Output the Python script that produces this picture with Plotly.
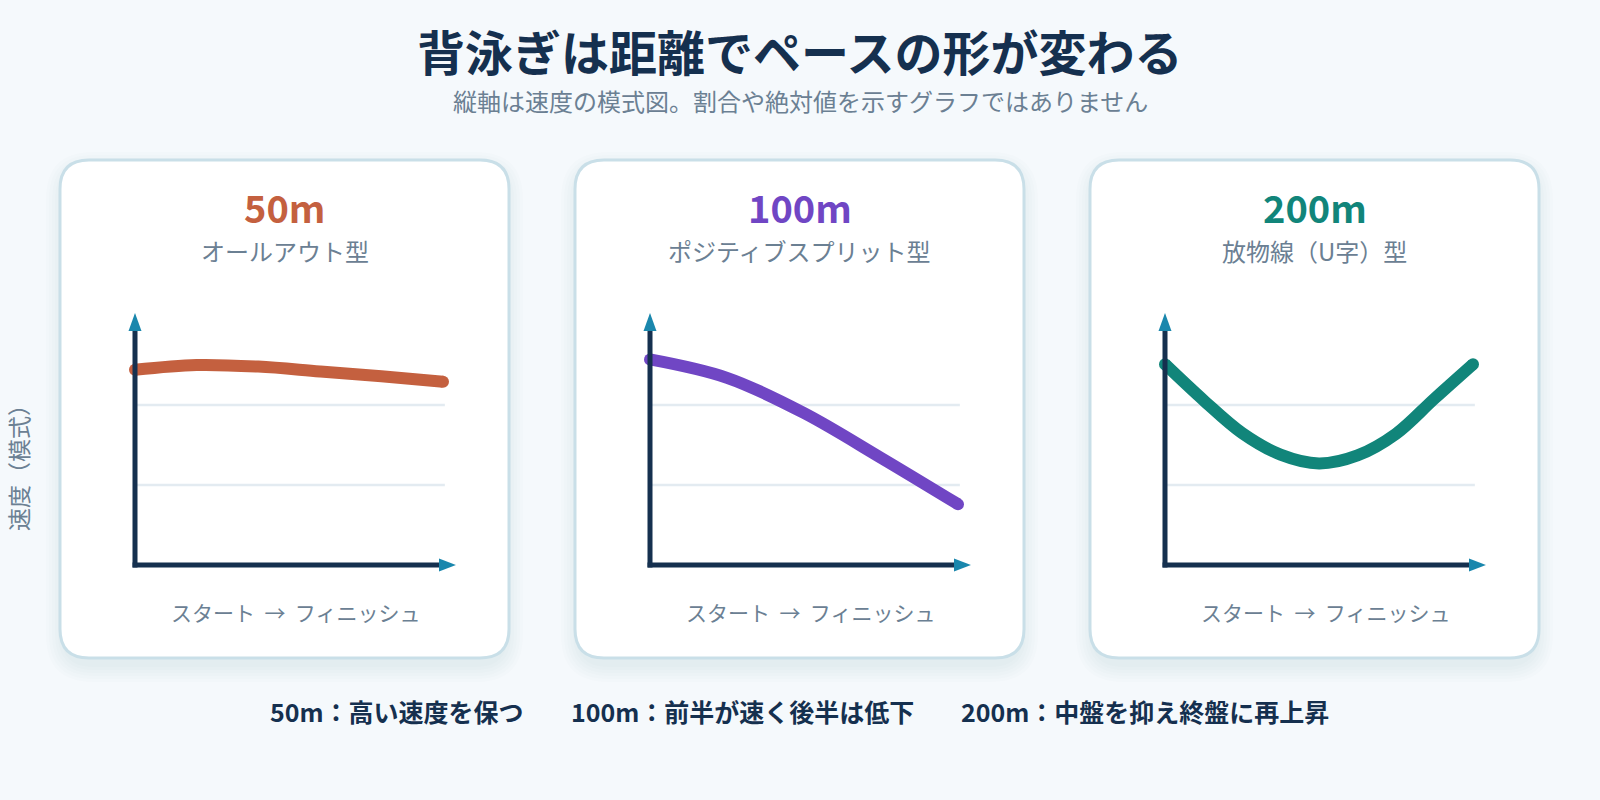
import plotly.graph_objects as go

# Schematic speed profiles for backstroke by race distance
# x = race progress (start -> finish), y = relative speed (schematic only)
distances = ["50m", "100m", "200m"]
race_types = ["オールアウト型", "ポジティブスプリット型", "放物線（U字）型"]
line_colors = ["#c4603f", "#7046c4", "#11857a"]

progress_50 = [0, 0.2, 0.4, 0.6, 0.8, 1.0]
speed_50 = [2.44, 2.50, 2.48, 2.42, 2.36, 2.29]

progress_100 = [0, 0.25, 0.5, 0.75, 1.0]
speed_100 = [2.57, 2.34, 1.90, 1.34, 0.76]

progress_200 = [0, 0.125, 0.25, 0.375, 0.5, 0.625, 0.75, 0.875, 1.0]
speed_200 = [2.51, 2.06, 1.65, 1.38, 1.27, 1.37, 1.64, 2.08, 2.51]

grid_levels = [1, 2]
summary = ["50m：高い速度を保つ", "100m：前半が速く後半は低下", "200m：中盤を抑え終盤に再上昇"]

profiles = [(progress_50, speed_50), (progress_100, speed_100), (progress_200, speed_200)]

W, H = 1600, 800
FONT = "Noto Sans CJK JP"
NAVY = "#15304f"
GREY = "#6b8093"
ARROW = "#1a87ad"
BG = "#f5f9fc"

# card geometry in pixels
card_left = [60, 575, 1090]
card_w, card_top, card_bot = 449, 160, 658


def px(x):
    return x / W


def py(y):
    return 1 - y / H


def round_rect(x0, y0, x1, y1, r):
    rx, ry = r / W, r / H
    a, b, c, d = px(x0), py(y0), px(x1), py(y1)
    return (f"M {a + rx},{b} L {c - rx},{b} Q {c},{b} {c},{b - ry} "
            f"L {c},{d + ry} Q {c},{d} {c - rx},{d} L {a + rx},{d} "
            f"Q {a},{d} {a},{d + ry} L {a},{b - ry} Q {a},{b} {a + rx},{b} Z")


fig = go.Figure()
shapes = []
annotations = []

for i in range(3):
    left = card_left[i]
    # soft shadow
    for k in range(6):
        g = 2 + k * 3
        shapes.append(dict(type="path", xref="paper", yref="paper",
                           path=round_rect(left - g + 3, card_top - g + 9, left + card_w + g - 3, card_bot + g + 7, 30 + g),
                           fillcolor="rgba(40,70,110,0.012)", line=dict(width=0), layer="below"))
    shapes.append(dict(type="path", xref="paper", yref="paper",
                       path=round_rect(left, card_top, left + card_w, card_bot, 29),
                       fillcolor="white", line=dict(color="#c9dfe8", width=3), layer="below"))

    xa = "x" if i == 0 else f"x{i + 1}"
    ya = "y" if i == 0 else f"y{i + 1}"
    off = left - 60

    # gridlines
    for g in grid_levels:
        shapes.append(dict(type="line", xref=xa, yref=ya, x0=0, x1=1.006, y0=g, y1=g,
                           line=dict(color="#e3ebf1", width=2.5), layer="below"))
    # axes
    shapes.append(dict(type="line", xref=xa, yref=ya, x0=0, x1=0, y0=-0.03, y1=2.95,
                       line=dict(color=NAVY, width=5)))
    shapes.append(dict(type="line", xref=xa, yref=ya, x0=-0.008, x1=1.0, y0=0, y1=0,
                       line=dict(color=NAVY, width=5)))
    # arrow heads
    shapes.append(dict(type="path", xref=xa, yref=ya,
                       path="M -0.021,2.925 L 0.021,2.925 L 0,3.15 Z",
                       fillcolor=ARROW, line=dict(width=0)))
    shapes.append(dict(type="path", xref=xa, yref=ya,
                       path="M 0.987,-0.081 L 0.987,0.081 L 1.042,0 Z",
                       fillcolor=ARROW, line=dict(width=0)))

    xs, ys = profiles[i]
    fig.add_trace(go.Scatter(x=xs, y=ys, mode="lines", xaxis=xa, yaxis=ya,
                             line=dict(color=line_colors[i], width=12, shape="spline", smoothing=1.0),
                             cliponaxis=False, hoverinfo="skip", showlegend=False))
    # round caps at the ends
    fig.add_trace(go.Scatter(x=[xs[0], xs[-1]], y=[ys[0], ys[-1]], mode="markers", xaxis=xa, yaxis=ya,
                             marker=dict(color=line_colors[i], size=12, line=dict(width=0)),
                             cliponaxis=False, hoverinfo="skip", showlegend=False))

    # x: 0 -> 135px, 308 px/unit; y: 0 -> 565px, 80 px/unit
    fig.layout[("xaxis" if i == 0 else f"xaxis{i + 1}")] = dict(
        domain=[px(135 + off - 0.06 * 308), px(135 + off + 1.07 * 308)], range=[-0.06, 1.07],
        visible=False, anchor=ya, fixedrange=True)
    fig.layout[("yaxis" if i == 0 else f"yaxis{i + 1}")] = dict(
        domain=[py(565 + 0.1 * 80), py(565 - 3.25 * 80)], range=[-0.1, 3.25],
        visible=False, anchor=xa, fixedrange=True)

    cx = left + card_w / 2
    annotations.append(dict(x=px(cx), y=py(206), xref="paper", yref="paper", text=distances[i],
                            showarrow=False, xanchor="center", yanchor="middle",
                            font=dict(family=FONT, size=38, color=line_colors[i], weight=700)))
    annotations.append(dict(x=px(cx), y=py(251), xref="paper", yref="paper", text=race_types[i],
                            showarrow=False, xanchor="center", yanchor="middle",
                            font=dict(family=FONT, size=24, color=GREY)))
    annotations.append(dict(x=px(295 + off), y=py(612), xref="paper", yref="paper",
                            text="スタート\u00a0 →\u00a0 フィニッシュ",
                            showarrow=False, xanchor="center", yanchor="middle",
                            font=dict(family=FONT, size=21, color=GREY)))

# title, subtitle, side label
annotations.append(dict(x=0.5, y=py(50), xref="paper", yref="paper", text="背泳ぎは距離でペースの形が変わる",
                        showarrow=False, xanchor="center", yanchor="middle", borderpad=0,
                        font=dict(family=FONT, size=48, color=NAVY, weight=700)))
annotations.append(dict(x=0.5, y=py(101), xref="paper", yref="paper",
                        text="縦軸は速度の模式図。割合や絶対値を示すグラフではありません",
                        showarrow=False, xanchor="center", yanchor="middle", borderpad=0,
                        font=dict(family=FONT, size=24, color=GREY)))
annotations.append(dict(x=px(18), y=py(462), xref="paper", yref="paper", text="速度（模式）",
                        showarrow=False, xanchor="center", yanchor="middle", textangle=-90, borderpad=0,
                        font=dict(family=FONT, size=23, color=GREY)))

# bottom summary
summary_x = [397, 742, 1145]
for sx, s in zip(summary_x, summary):
    annotations.append(dict(x=px(sx), y=py(711), xref="paper", yref="paper", text=s,
                            showarrow=False, xanchor="center", yanchor="middle",
                            font=dict(family=FONT, size=25, color=NAVY, weight=700)))

fig.update_layout(
    width=W, height=H,
    margin=dict(l=0, r=0, t=0, b=0),
    paper_bgcolor=BG, plot_bgcolor="rgba(0,0,0,0)",
    shapes=shapes, annotations=annotations,
    showlegend=False,
)

fig.write_html("out.html", config={"displayModeBar": False},
               post_script="document.body.style.margin='0';document.body.style.background='#f5f9fc';")
